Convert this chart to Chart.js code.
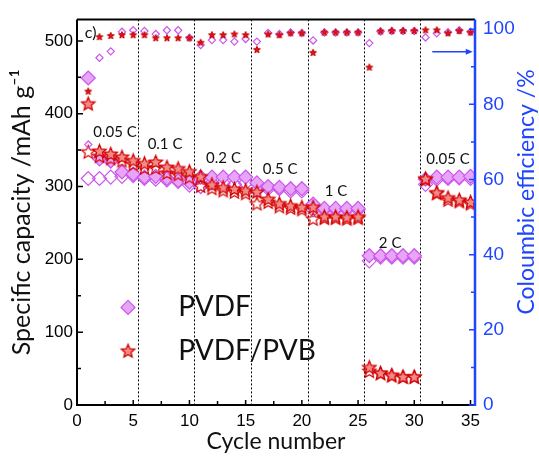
<!DOCTYPE html>
<html>
<head>
<meta charset="utf-8">
<script src="https://cdn.jsdelivr.net/npm/chart.js@4.4.0/dist/chart.umd.min.js"></script>
<style>
  html, body { margin: 0; padding: 0; background: #fff; }
</style>
</head>
<body>
<canvas id="rateChart" width="539" height="460"></canvas>
<script>
// cycle numbers
const cycles = [1, 2, 3, 4, 5, 6, 7, 8, 9, 10, 11, 12, 13, 14, 15, 16, 17, 18, 19, 20,
                21, 22, 23, 24, 25, 26, 27, 28, 29, 30, 31, 32, 33, 34, 35];

// specific capacity, mAh/g
const pvdfDischarge = [449, 338, 335, 320, 317, 313, 314, 311, 308, 306, 313, 313, 313, 313, 313, 305, 300, 299, 297, 297,
                       276, 270, 270, 270, 270, 205, 205, 205, 205, 205, 310, 313, 313, 313, 314];
const pvdfCharge = [311, 311, 313, 314, 315, 311, 310, 309, 307, 302, 300, 305, 305, 303, 305, 295, 297, 297, 294, 294,
                    268, 268, 268, 268, 268, 198, 203, 203, 203, 203, 303, 310, 311, 312, 311];
const pvbDischarge = [413, 348, 344, 340, 335, 331, 333, 326, 324, 320, 313, 302, 298, 296, 294, 292, 282, 276, 273, 271,
                      271, 258, 258, 257, 258, 51, 43, 40, 38, 38, 310, 291, 284, 281, 278];
const pvbCharge = [347, 341, 338, 335, 330, 325, 325, 318, 316, 312, 300, 297, 294, 292, 290, 276, 278, 272, 270, 268,
                   255, 256, 256, 255, 256, 46, 43, 40, 38, 38, 309, 290, 281, 279, 276];

// coulombic efficiency, %
const cePvdf = [69.3, 92.4, 94.1, 99.3, 99.7, 99.5, 98.7, 99.7, 99.7, 97.7, 95.8, 97.1, 97.1, 96.7, 97.4, 96.7, 99.0, 98.7, 99.1, 99.0,
                97.0, 99.1, 99.1, 99.1, 99.1, 96.3, 99.4, 99.5, 99.5, 99.5, 97.8, 98.9, 99.2, 99.7, 99.3];
const cePvb = [83.4, 97.9, 98.2, 98.4, 98.4, 98.4, 97.6, 97.6, 97.6, 97.6, 96.4, 98.4, 98.4, 98.6, 98.4, 94.5, 98.6, 98.4, 98.9, 98.9,
               93.7, 99.1, 99.1, 99.1, 99.1, 89.8, 99.4, 99.5, 99.5, 99.5, 99.7, 99.7, 98.9, 99.5, 99.1];

// rate steps
const rateLabels = ['0.05 C', '0.1 C', '0.2 C', '0.5 C', '1 C', '2 C', '0.05 C'];
const rateBreaks = [5.4, 10.45, 15.5, 20.55, 25.55, 30.5];

const xTicks = [0, 5, 10, 15, 20, 25, 30, 35];
const yTicks = [0, 100, 200, 300, 400, 500];
const y1Ticks = [0, 20, 40, 60, 80, 100];

const BLUE = '#1f45ff';
const VIOLET_FILL = '#e8a4f6';
const VIOLET_LINE = '#cc55ee';
const STAR_FILL = '#f28a8a';
const STAR_LINE = '#d40000';
const TICK_FONT = '"Liberation Sans", Arial, sans-serif';
const TEXT_FONT = 'Lato, "Noto Sans", sans-serif';

function starCanvas(r, fill, stroke, lw) {
    const size = Math.ceil(2 * r + lw * 2 + 2);
    const c = document.createElement('canvas');
    c.width = c.height = size;
    const g = c.getContext('2d');
    g.translate(size / 2, size / 2);
    g.beginPath();
    for (let i = 0; i < 10; i++) {
        const rad = i % 2 ? r * 0.45 : r;
        const a = -Math.PI / 2 + i * Math.PI / 5;
        g.lineTo(rad * Math.cos(a), rad * Math.sin(a));
    }
    g.closePath();
    if (fill) {
        g.fillStyle = fill;
        g.fill();
    }
    g.lineWidth = lw;
    g.strokeStyle = stroke;
    g.stroke();
    return c;
}

const bigStar = starCanvas(7, STAR_FILL, STAR_LINE, 1.3);
const hollowStar = starCanvas(7, null, STAR_LINE, 1.2);
const smallStar = starCanvas(3.6, '#e01010', '#c00000', 1);

function pts(values) {
    return cycles.map((c, i) => ({x: c, y: values[i]}));
}

// label positions in data units (cycle, capacity)
const ratePos = [[3.38, 374], [7.83, 358.6], [13.03, 339], [18.06, 324.4], [23.04, 293.6], [27.85, 222.5], [33.0, 337.8]];

function fixedWidth(w) {
    return scale => { scale.width = w; };
}

const decor = {
    id: 'decor',
    beforeDatasetsDraw(chart) {
        const {ctx, chartArea: a, scales: {x}} = chart;
        ctx.save();
        ctx.strokeStyle = '#000';
        ctx.lineWidth = 1;
        ctx.setLineDash([2, 2]);
        rateBreaks.forEach(b => {
            const px = Math.round(x.getPixelForValue(b)) + 0.5;
            ctx.beginPath();
            ctx.moveTo(px, a.top);
            ctx.lineTo(px, a.bottom);
            ctx.stroke();
        });
        ctx.restore();
    },
    afterDatasetsDraw(chart) {
        const {ctx, chartArea: a, scales: {x, y, y1}} = chart;
        ctx.save();

        // axes and frame
        ctx.lineWidth = 2;
        ctx.strokeStyle = '#000';
        ctx.beginPath();
        ctx.moveTo(a.left, a.top);
        ctx.lineTo(a.right, a.top);
        ctx.moveTo(a.left, a.top);
        ctx.lineTo(a.left, a.bottom);
        ctx.lineTo(a.right, a.bottom);
        ctx.stroke();

        // inward tick marks
        ctx.lineWidth = 1.5;
        ctx.beginPath();
        for (let v = 0; v <= 35; v += 2.5) {
            const px = x.getPixelForValue(v);
            ctx.moveTo(px, a.bottom);
            ctx.lineTo(px, a.bottom - (v % 5 === 0 ? 5 : 4));
        }
        for (let v = 0; v <= 500; v += 50) {
            const py = y.getPixelForValue(v);
            ctx.moveTo(a.left, py);
            ctx.lineTo(a.left + (v % 100 === 0 ? 6 : 4), py);
        }
        ctx.stroke();

        ctx.strokeStyle = BLUE;
        ctx.lineWidth = 2.5;
        ctx.beginPath();
        ctx.moveTo(a.right, a.top);
        ctx.lineTo(a.right, a.bottom + 1);
        ctx.stroke();
        ctx.lineWidth = 1.5;
        ctx.beginPath();
        for (let v = 0; v <= 100; v += 10) {
            const py = y1.getPixelForValue(v);
            ctx.moveTo(a.right, py);
            ctx.lineTo(a.right - (v % 20 === 0 ? 6 : 4), py);
        }
        ctx.stroke();

        // rate labels
        ctx.fillStyle = '#111';
        ctx.font = '15px ' + TEXT_FONT;
        ctx.textAlign = 'center';
        ctx.textBaseline = 'middle';
        rateLabels.forEach((t, i) => {
            ctx.fillText(t, x.getPixelForValue(ratePos[i][0]), y.getPixelForValue(ratePos[i][1]));
        });
        ctx.textAlign = 'left';
        ctx.font = '16px ' + TEXT_FONT;
        ctx.fillText('c)', x.getPixelForValue(0.7), y.getPixelForValue(511));

        // arrow pointing to the efficiency axis
        const ay = y1.getPixelForValue(94);
        const ax0 = x.getPixelForValue(31.6);
        const ax1 = x.getPixelForValue(35.2);
        ctx.strokeStyle = BLUE;
        ctx.fillStyle = BLUE;
        ctx.lineWidth = 1.5;
        ctx.beginPath();
        ctx.moveTo(ax0, ay);
        ctx.lineTo(ax1 - 4, ay);
        ctx.stroke();
        ctx.beginPath();
        ctx.moveTo(ax1, ay);
        ctx.lineTo(ax1 - 7, ay - 3);
        ctx.lineTo(ax1 - 7, ay + 3);
        ctx.closePath();
        ctx.fill();

        // legend
        const lx = x.getPixelForValue(4.54);
        const ly1 = y.getPixelForValue(134);
        const ly2 = y.getPixelForValue(73.7);
        ctx.fillStyle = VIOLET_FILL;
        ctx.strokeStyle = VIOLET_LINE;
        ctx.lineWidth = 1.2;
        ctx.beginPath();
        ctx.moveTo(lx, ly1 - 7);
        ctx.lineTo(lx + 7, ly1);
        ctx.lineTo(lx, ly1 + 7);
        ctx.lineTo(lx - 7, ly1);
        ctx.closePath();
        ctx.fill();
        ctx.stroke();
        ctx.drawImage(bigStar, lx - bigStar.width / 2, ly2 - bigStar.height / 2);
        ctx.fillStyle = '#111';
        ctx.font = '28px ' + TEXT_FONT;
        const tx = x.getPixelForValue(9);
        ctx.fillText('PVDF', tx, ly1);
        ctx.fillText('PVDF/PVB', tx, ly2);

        // right axis title, reading bottom to top
        ctx.translate(527, 192);
        ctx.rotate(-Math.PI / 2);
        ctx.textAlign = 'center';
        ctx.fillStyle = BLUE;
        ctx.font = '23px ' + TEXT_FONT;
        ctx.fillText('Coloumbic efficiency /%', 0, 0);
        ctx.restore();
    }
};

const ctx = document.getElementById('rateChart').getContext('2d');
const chart = new Chart(ctx, {
    type: 'scatter',
    data: {
        datasets: [
            {
                label: 'CE PVDF/PVB',
                data: pts(cePvb),
                yAxisID: 'y1',
                pointStyle: smallStar
            },
            {
                label: 'CE PVDF',
                data: pts(cePvdf),
                yAxisID: 'y1',
                pointStyle: 'rectRot',
                pointRadius: 3.6,
                backgroundColor: 'rgba(255,255,255,0)',
                borderColor: VIOLET_LINE,
                borderWidth: 1.2
            },
            {
                label: 'PVDF/PVB',
                data: pts(pvbDischarge),
                yAxisID: 'y',
                pointStyle: bigStar
            },
            {
                label: 'PVDF/PVB charge',
                data: pts(pvbCharge),
                yAxisID: 'y',
                pointStyle: hollowStar
            },
            {
                label: 'PVDF',
                data: pts(pvdfDischarge),
                yAxisID: 'y',
                pointStyle: 'rectRot',
                pointRadius: 7,
                backgroundColor: VIOLET_FILL,
                borderColor: VIOLET_LINE,
                borderWidth: 1.2
            },
            {
                label: 'PVDF charge',
                data: pts(pvdfCharge),
                yAxisID: 'y',
                pointStyle: 'rectRot',
                pointRadius: 7,
                backgroundColor: 'rgba(255,255,255,0)',
                borderColor: VIOLET_LINE,
                borderWidth: 1.2
            }
        ]
    },
    options: {
        responsive: false,
        animation: false,
        devicePixelRatio: 1,
        layout: { padding: { top: 10, left: 0, right: 0, bottom: 0 } },
        plugins: {
            legend: { display: false },
            tooltip: { enabled: false }
        },
        elements: { point: { hoverRadius: 0 } },
        scales: {
            x: {
                type: 'linear',
                min: 0,
                max: 35.4,
                afterBuildTicks: s => { s.ticks = xTicks.map(v => ({value: v})); },
                afterFit: s => { s.height = 55; },
                grid: { display: false, drawTicks: false },
                border: { display: false },
                ticks: {
                    color: '#000',
                    padding: 6,
                    maxRotation: 0,
                    font: { family: TICK_FONT, size: 17 }
                },
                title: {
                    display: true,
                    text: 'Cycle number',
                    color: '#111',
                    padding: { top: 0, bottom: 5 },
                    font: { family: TEXT_FONT, size: 23 }
                }
            },
            y: {
                type: 'linear',
                position: 'left',
                min: 0,
                max: 529.5,
                afterBuildTicks: s => { s.ticks = yTicks.map(v => ({value: v})); },
                afterFit: fixedWidth(77),
                grid: { display: false, drawTicks: false },
                border: { display: false },
                ticks: {
                    color: '#000',
                    padding: 4,
                    font: { family: TICK_FONT, size: 17 }
                },
                title: {
                    display: true,
                    text: 'Specific capacity /mAh g\u207B\u00B9',
                    color: '#111',
                    padding: { top: 7, bottom: 0 },
                    font: { family: TEXT_FONT, size: 25 }
                }
            },
            y1: {
                type: 'linear',
                position: 'right',
                min: 0,
                max: 102.6,
                afterBuildTicks: s => { s.ticks = y1Ticks.map(v => ({value: v})); },
                afterFit: fixedWidth(64),
                grid: { display: false, drawTicks: false },
                border: { display: false },
                ticks: {
                    color: BLUE,
                    padding: 8,
                    font: { family: TICK_FONT, size: 19 }
                }
            }
        }
    },
    plugins: [decor]
});
</script>
</body>
</html>
